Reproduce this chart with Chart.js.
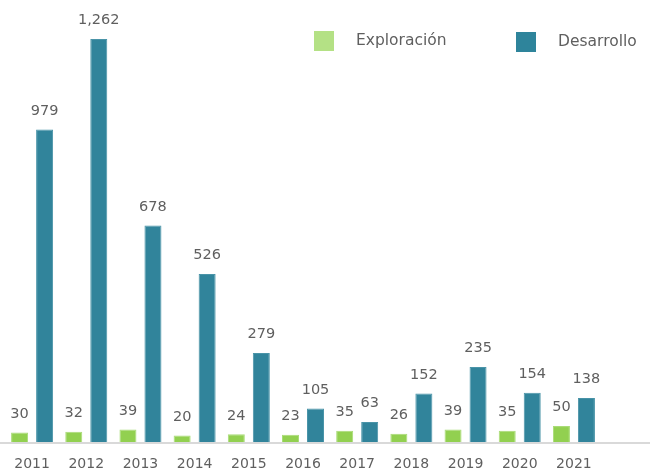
<!DOCTYPE html>
<html><head><meta charset="utf-8">
<script src="https://cdn.jsdelivr.net/npm/chart.js@4"></script>
<style>html,body{margin:0;padding:0;background:#fff}#wrap{width:650px;height:473px}</style>
</head><body><div id="wrap"><canvas id="c" width="650" height="473"></canvas></div>
<script>
const years = ['2011','2012','2013','2014','2015','2016','2017','2018','2019','2020','2021'];
const exploracion = [30,32,39,20,24,23,35,26,39,35,50];
const desarrollo = [979,1262,678,526,279,105,63,152,235,154,138];
const seriesNames = ['Exploración','Desarrollo'];

const FONT = 'DejaVu Sans';
const TXT = '#5f5f5f';

const labelsPlugin = {
  id:'vals',
  afterDatasetsDraw(chart){
    const ctx = chart.ctx;
    ctx.save();
    ctx.font = '14.5px "'+FONT+'"';
    ctx.fillStyle = TXT;
    ctx.textAlign = 'center';
    ctx.textBaseline = 'middle';
    chart.data.datasets.forEach((ds,i)=>{
      chart.getDatasetMeta(i).data.forEach((bar,j)=>{
        const v = ds.data[j];
        ctx.fillText(v.toLocaleString('en-US'), bar.x, bar.y - 18.5);
      });
    });
    ctx.restore();
  }
};
const axisLinePlugin = {
  id:'axisline',
  beforeDatasetsDraw(chart){
    const y = chart.scales.y.getPixelForValue(0);
    const ctx = chart.ctx;
    ctx.save();
    ctx.strokeStyle = '#d9d9d9';
    ctx.lineWidth = 2;
    ctx.beginPath();
    ctx.moveTo(0, y+1);
    ctx.lineTo(chart.width, y+1);
    ctx.stroke();
    ctx.restore();
  }
};
const legendColors = ['#b4e185','#2e849b'];
const legendPos = [[314,31],[516,32]];
const legendPlugin = {
  id:'customLegend',
  afterDraw(chart){
    const ctx = chart.ctx;
    ctx.save();
    ctx.font = '15.5px "'+FONT+'"';
    ctx.textBaseline = 'middle';
    ctx.textAlign = 'left';
    chart.data.datasets.forEach((ds,i)=>{
      const [x,y] = legendPos[i];
      ctx.fillStyle = legendColors[i];
      ctx.fillRect(x,y,20,20);
      ctx.fillStyle = TXT;
      ctx.fillText(ds.label, x+42, y+10);
    });
    ctx.restore();
  }
};

new Chart(document.getElementById('c'), {
  type:'bar',
  data:{
    labels: years,
    datasets:[
      {label: seriesNames[0], data: exploracion, backgroundColor:'#92d050', borderColor:'#a9dc77', borderWidth:1},
      {label: seriesNames[1], data: desarrollo, backgroundColor:'#31849b', borderColor:'#4a94a8', borderWidth:1}
    ]
  },
  options:{
    responsive:false,
    animation:false,
    devicePixelRatio:1,
    layout:{padding:{left:5, right:49, top:11, bottom:0}},
    datasets:{bar:{categoryPercentage:0.923, barPercentage:0.68}},
    plugins:{legend:{display:false}, tooltip:{enabled:false}},
    scales:{
      x:{
        grid:{display:false, drawTicks:false},
        border:{display:false},
        ticks:{color:TXT, font:{family:FONT, size:14}, padding:14, maxRotation:0},
        afterFit(scale){ scale.height = 31; }
      },
      y:{display:false, min:0, max:1350}
    }
  },
  plugins:[axisLinePlugin, labelsPlugin, legendPlugin]
});
</script></body></html>
